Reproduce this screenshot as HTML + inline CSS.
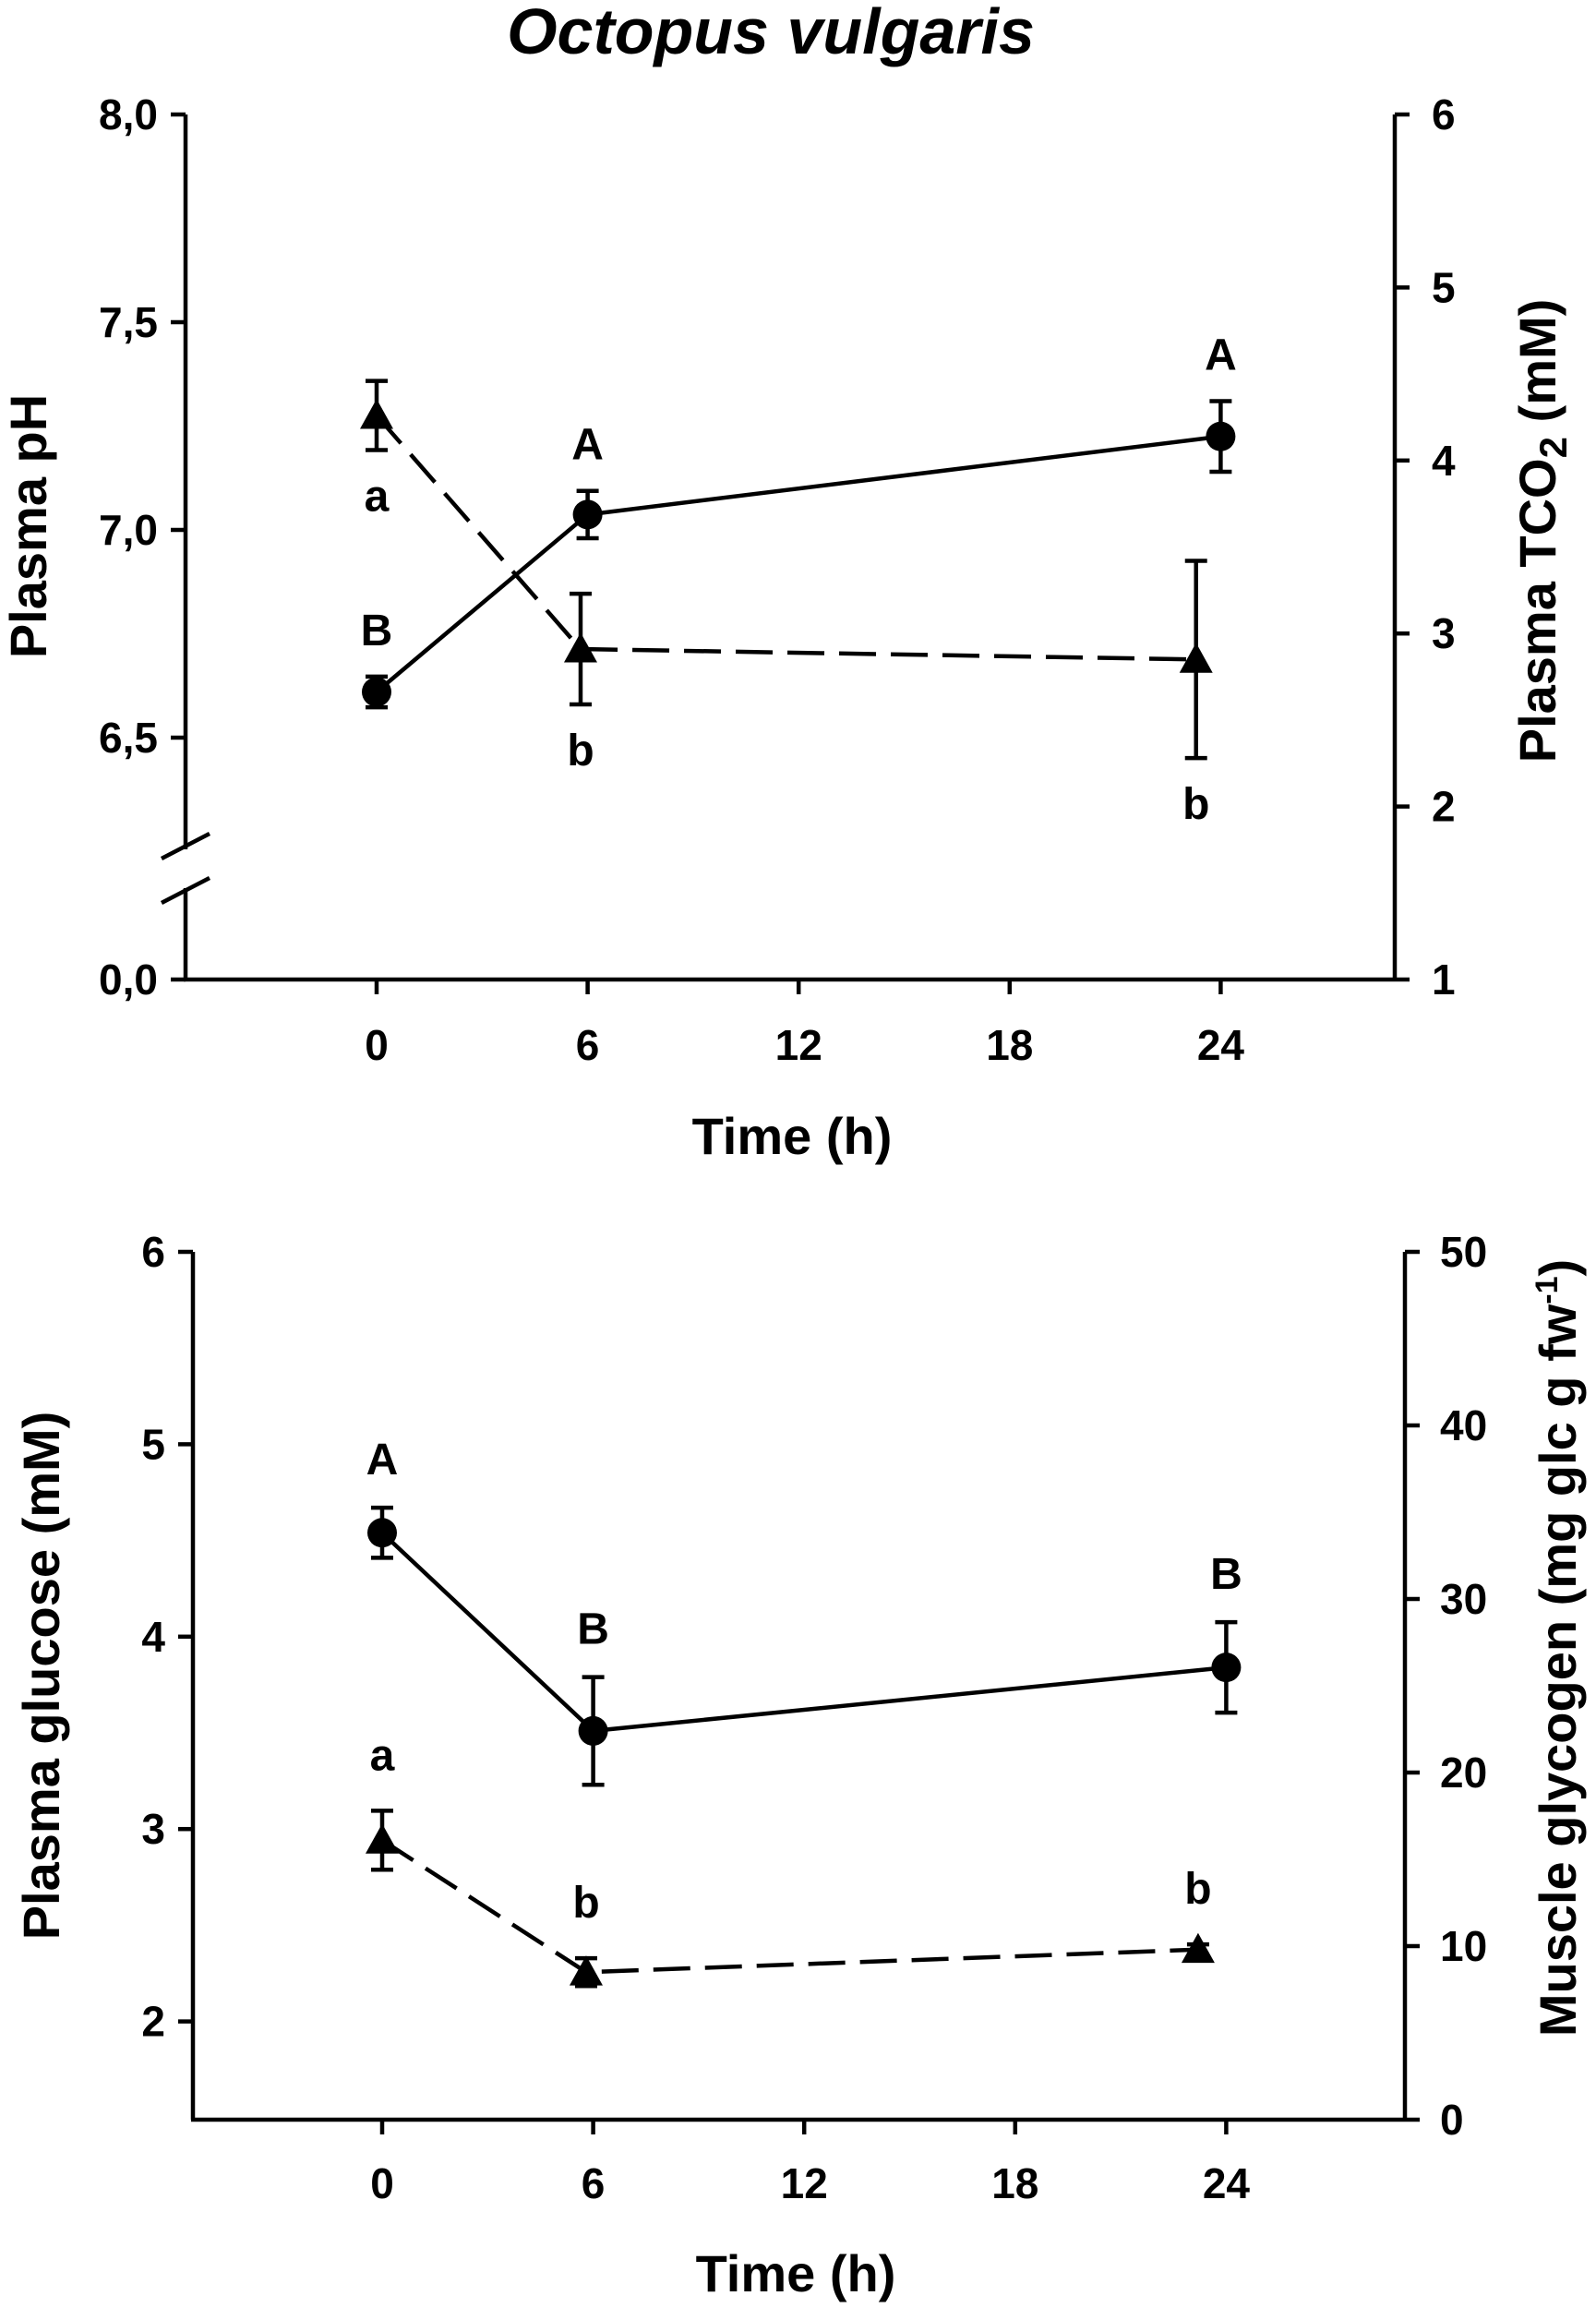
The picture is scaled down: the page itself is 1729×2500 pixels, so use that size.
<!DOCTYPE html>
<html><head><meta charset="utf-8"><style>
html,body{margin:0;padding:0;background:#fff;}
svg{display:block;}
text{font-family:"Liberation Sans",Arial,sans-serif;font-weight:bold;fill:#000;}
.tick{font-size:46px;}
.ttl{font-size:56px;}
.let{font-size:48px;}
</style></head><body>
<svg id="chart" width="1729" height="2500" viewBox="0 0 1729 2500" xmlns="http://www.w3.org/2000/svg">
<text x="835" y="58" text-anchor="middle" font-size="70" font-style="italic">Octopus vulgaris</text>
</svg>
<script>
// ---- top panel data ----
const xTicks = [0, 6, 12, 18, 24];
const phTimes = [0, 6, 24];
const phValues = [6.61, 7.037, 7.225];
const phErr = [0.037, 0.057, 0.085];
const phLetters = ['B', 'A', 'A'];
const phTickLabels = ['8,0', '7,5', '7,0', '6,5'];
const phTickValues = [8.0, 7.5, 7.0, 6.5];
const tcoTimes = [0, 5.8, 23.3];
const tcoValues = [4.26, 2.91, 2.85];
const tcoErr = [0.2, 0.32, 0.57];
const tcoLetters = ['a', 'b', 'b'];
const tcoTicks = [1, 2, 3, 4, 5, 6];
// ---- bottom panel data ----
const gluTimes = [0, 6, 24];
const gluValues = [4.54, 3.51, 3.84];
const gluErr = [0.13, 0.28, 0.235];
const gluLetters = ['A', 'B', 'B'];
const gluTicks = [2, 3, 4, 5, 6];
const glyTimes = [0, 5.8, 23.2];
const glyValues = [16.1, 8.5, 9.8];
const glyErr = [1.7, 0.8, 0.3];
const glyLetters = ['a', 'b', 'b'];
const glyTicks = [0, 10, 20, 30, 40, 50];

const NS = 'http://www.w3.org/2000/svg';
const svg = document.getElementById('chart');
function mk(tag, attrs, name, parent) {
  const e = document.createElementNS(NS, tag);
  for (const k in attrs) e.setAttribute(k, attrs[k]);
  
  
  (parent || svg).appendChild(e);
  return e;
}
function txt(x, y, s, cls, anchor, name, extra) {
  const t = mk('text', Object.assign({x: x, y: y, 'text-anchor': anchor || 'middle', 'class': cls}, extra || {}), name);
  t.textContent = s;
  return t;
}
const LW = 4.5;
function line(x1, y1, x2, y2, name, extra) {
  return mk('line', Object.assign({x1: x1, y1: y1, x2: x2, y2: y2, stroke: '#000', 'stroke-width': LW}, extra || {}), name);
}
function circle(cx, cy, name) { return mk('circle', {cx: cx, cy: cy, r: 16, fill: '#000'}, name); }
function tri(cx, cy, name) {
  const s = 18;
  return mk('polygon', {points: `${cx},${cy - s} ${cx - s},${cy + s * 0.8} ${cx + s},${cy + s * 0.8}`, fill: '#000'}, name);
}
function errbar(x, y1, y2, name) {
  line(x, y1, x, y2, name);
  line(x - 12, y1, x + 12, y1, name + '-cap-top');
  line(x - 12, y2, x + 12, y2, name + '-cap-bottom');
}
function poly(pts, dash, name) {
  const e = mk('polyline', {points: pts.map(p => p.join(',')).join(' '), fill: 'none', stroke: '#000', 'stroke-width': LW}, name);
  if (dash) e.setAttribute('stroke-dasharray', dash);
  return e;
}

// ================= TOP PANEL =================
(function(){
  const L = 201, R = 1511, T = 124, B = 1061, X0 = 408, PXH = 38.1;
  const xs = t => X0 + t * PXH;
  const yPH = v => 124 + (8 - v) * 450;
  const yT = v => B - (v - 1) * (B - T) / 5;
  line(L, T, L, 920, 'left-y-axis');
  line(L, 962, L, B, 'left-y-axis-lower');
  line(L - 26, 930, L + 26, 903, 'axis-break-mark');
  line(L - 26, 978, L + 26, 951, 'axis-break-mark');
  line(L - 2, B, R, B, 'x-axis');
  line(R, T, R, B, 'right-y-axis');
  phTickValues.forEach((v, i) => {
    line(L - 16, yPH(v), L, yPH(v), 'ph-tick');
    txt(L - 30, yPH(v) + 16, phTickLabels[i], 'tick', 'end', 'ph-tick-label');
  });
  line(L - 16, B, L, B, 'ph-tick');
  txt(L - 30, B + 16, '0,0', 'tick', 'end', 'ph-tick-label');
  tcoTicks.forEach(v => {
    line(R, yT(v), R + 16, yT(v), 'tco2-tick');
    txt(R + 40, yT(v) + 16, String(v), 'tick', 'start', 'tco2-tick-label');
  });
  xTicks.forEach(v => {
    line(xs(v), B, xs(v), B + 16, 'x-tick');
    txt(xs(v), 1148, String(v), 'tick', 'middle', 'x-tick-label');
  });
  txt(858, 1250, 'Time (h)', 'ttl', 'middle', 'x-axis-title');
  txt(0, 0, 'Plasma pH', 'ttl', 'middle', 'ph-axis-title', {transform: 'translate(50,570) rotate(-90)'});
  const rt = mk('text', {'class': 'ttl', 'text-anchor': 'middle', transform: 'translate(1685,575) rotate(-90)'}, 'tco2-axis-title');
  rt.innerHTML = 'Plasma TCO<tspan font-size="42" dy="12">2</tspan><tspan dy="-12"> (mM)</tspan>';

  poly(tcoTimes.map((t, i) => [xs(t), yT(tcoValues[i])]), '40,16', 'tco2-line');
  poly(phTimes.map((t, i) => [xs(t), yPH(phValues[i])]), null, 'ph-line');
  tcoTimes.forEach((t, i) => {
    errbar(xs(t), yT(tcoValues[i] + tcoErr[i]), yT(tcoValues[i] - tcoErr[i]), 'tco2-errorbar');
    tri(xs(t), yT(tcoValues[i]), 'tco2-point');
    txt(xs(t), yT(tcoValues[i] - tcoErr[i]) + 66, tcoLetters[i], 'let', 'middle', 'tco2-letter');
  });
  phTimes.forEach((t, i) => {
    errbar(xs(t), yPH(phValues[i] + phErr[i]), yPH(phValues[i] - phErr[i]), 'ph-errorbar');
    circle(xs(t), yPH(phValues[i]), 'ph-point');
    txt(xs(t), yPH(phValues[i] + phErr[i]) - 34, phLetters[i], 'let', 'middle', 'ph-letter');
  });
})();

// ================= BOTTOM PANEL =================
(function(){
  const L = 209, R = 1522, T = 1356, B = 2296, X0 = 414, PXH = 38.1;
  const xs = t => X0 + t * PXH;
  const yG = v => T + (6 - v) * 208.4;
  const yY = v => B - v * (B - T) / 50;
  line(L, T, L, B, 'left-y-axis');
  line(L - 2, B, R, B, 'x-axis');
  line(R, T, R, B, 'right-y-axis');
  gluTicks.forEach(v => {
    line(L - 16, yG(v), L, yG(v), 'glucose-tick');
    txt(L - 30, yG(v) + 16, String(v), 'tick', 'end', 'glucose-tick-label');
  });
  glyTicks.forEach(v => {
    line(R, yY(v), R + 16, yY(v), 'glycogen-tick');
    txt(R + 38, yY(v) + 16, String(v), 'tick', 'start', 'glycogen-tick-label');
  });
  xTicks.forEach(v => {
    line(xs(v), B, xs(v), B + 16, 'x-tick');
    txt(xs(v), 2381, String(v), 'tick', 'middle', 'x-tick-label');
  });
  txt(862, 2482, 'Time (h)', 'ttl', 'middle', 'x-axis-title');
  txt(0, 0, 'Plasma glucose (mM)', 'ttl', 'middle', 'glucose-axis-title', {transform: 'translate(64,1815) rotate(-90)'});
  const rt = mk('text', {'class': 'ttl', 'text-anchor': 'middle', 'font-size': 54, transform: 'translate(1707,1785) rotate(-90)'}, 'glycogen-axis-title');
  rt.innerHTML = 'Muscle glycogen (mg glc g fw<tspan font-size="34" dy="-20">-1</tspan><tspan dy="20">)</tspan>';

  poly(glyTimes.map((t, i) => [xs(t), yY(glyValues[i])]), '40,16', 'glycogen-line');
  poly(gluTimes.map((t, i) => [xs(t), yG(gluValues[i])]), null, 'glucose-line');
  glyTimes.forEach((t, i) => {
    errbar(xs(t), yY(glyValues[i] + glyErr[i]), yY(glyValues[i] - glyErr[i]), 'glycogen-errorbar');
    tri(xs(t), yY(glyValues[i]), 'glycogen-point');
    txt(xs(t), yY(glyValues[i] + glyErr[i]) - 44, glyLetters[i], 'let', 'middle', 'glycogen-letter');
  });
  gluTimes.forEach((t, i) => {
    errbar(xs(t), yG(gluValues[i] + gluErr[i]), yG(gluValues[i] - gluErr[i]), 'glucose-errorbar');
    circle(xs(t), yG(gluValues[i]), 'glucose-point');
    txt(xs(t), yG(gluValues[i] + gluErr[i]) - 36, gluLetters[i], 'let', 'middle', 'glucose-letter');
  });
})();
</script>
</body></html>
